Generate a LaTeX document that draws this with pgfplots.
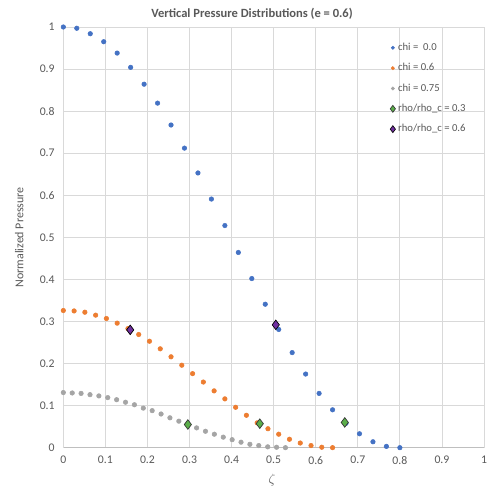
\documentclass[border=0pt]{standalone}
\usepackage{fontspec}
\setmainfont{Carlito}
\usepackage{pgfplots}
\pgfplotsset{compat=1.18}

\definecolor{txtgray}{HTML}{595959}
\definecolor{gridgray}{HTML}{D9D9D9}
\definecolor{axgray}{HTML}{BFBFBF}
\definecolor{xlblue}{HTML}{4472C4}
\definecolor{xlorange}{HTML}{ED7D31}
\definecolor{xlgray}{HTML}{A5A5A5}
\definecolor{xlgreen}{HTML}{5BAE4A}
\definecolor{xlpurple}{HTML}{7030A0}

\begin{document}
\begin{tikzpicture}
% fixed page: 500 x 499 px at 0.75pt per px
\path[use as bounding box, fill=white] (0,0) rectangle (375pt,374.25pt);
\begin{axis}[
  at={(47.5pt,38.5pt)}, anchor=south west,
  scale only axis, width=315.5pt, height=315.5pt,
  xmin=0, xmax=1, ymin=0, ymax=1,
  xtick={0,0.1,...,1.01}, ytick={0,0.1,...,1.01},
  grid=major, major grid style={gridgray, line width=0.6pt},
  axis lines=left,
  x axis line style={-, axgray, line width=0.7pt},
  y axis line style={-, gridgray, line width=0.6pt},
  major tick length=0pt,
  tick label style={font=\fontsize{8.8pt}{10pt}\selectfont, text=txtgray},
  /pgf/number format/assume math mode=true,
  /pgf/number format/fixed,
  /pgf/number format/precision=1,
  yticklabel style={xshift=-3pt},
  xticklabel style={yshift=-3pt},
  every axis title shift=0pt,
  title={Vertical Pressure Distributions (e = 0.6)},
  title style={font=\bfseries\fontsize{9.4pt}{11pt}\selectfont, text=txtgray,
    at={(axis description cs:0.4485,1.031)}, anchor=center},
  ylabel={Normalized Pressure},
  ylabel style={font=\fontsize{9pt}{10pt}\selectfont, text=txtgray,
    at={(axis description cs:-0.105,0.5)}, anchor=center},
  xlabel={$\zeta$},
  xlabel style={font=\fontsize{10pt}{12pt}\selectfont, text=txtgray,
    at={(axis description cs:0.496,-0.077)}, anchor=center},
  legend style={draw=none, fill=none, at={(axis description cs:0.767,0.975)},
    anchor=north west, font=\fontsize{8pt}{9pt}\selectfont, text=txtgray,
    row sep=4.2pt, cells={anchor=west}},
  legend image code/.code={\draw[#1, mark options={scale=0.72}] plot coordinates {(0.15cm,0cm)};},
]
% chi = 0.0
\addplot[only marks, mark=*, mark size=1.7pt, color=xlblue] coordinates {
(0.000,1.000) (0.032,0.997) (0.064,0.984) (0.096,0.965) (0.128,0.938)
(0.160,0.904) (0.192,0.864) (0.224,0.819) (0.256,0.767) (0.288,0.712)
(0.320,0.653) (0.352,0.591) (0.384,0.528) (0.416,0.464) (0.448,0.402)
(0.480,0.341) (0.512,0.281) (0.544,0.226) (0.576,0.175) (0.608,0.129)
(0.640,0.090) (0.672,0.058) (0.704,0.033) (0.736,0.014) (0.768,0.003)
(0.800,0.000)};
\addlegendentry{chi =\ \ 0.0}
% chi = 0.6
\addplot[only marks, mark=*, mark size=1.7pt, color=xlorange] coordinates {
(0.0000,0.326) (0.0256,0.325) (0.0512,0.322) (0.0768,0.315) (0.1024,0.307)
(0.1280,0.296) (0.1536,0.283) (0.1792,0.269) (0.2048,0.253) (0.2304,0.235)
(0.2560,0.216) (0.2816,0.196) (0.3072,0.176) (0.3328,0.156) (0.3584,0.135)
(0.3840,0.116) (0.4096,0.096) (0.4352,0.077) (0.4608,0.059) (0.4864,0.045)
(0.5120,0.032) (0.5376,0.020) (0.5632,0.011) (0.5888,0.005) (0.6144,0.001)
(0.6400,0.000)};
\addlegendentry{chi = 0.6}
% chi = 0.75
\addplot[only marks, mark=*, mark size=1.7pt, color=xlgray] coordinates {
(0.0000,0.131) (0.0211,0.130) (0.0422,0.129) (0.0634,0.126) (0.0845,0.123)
(0.1056,0.119) (0.1267,0.114) (0.1478,0.108) (0.1690,0.102) (0.1901,0.094)
(0.2112,0.088) (0.2323,0.080) (0.2534,0.071) (0.2746,0.063) (0.2957,0.055)
(0.3168,0.047) (0.3379,0.039) (0.3590,0.032) (0.3802,0.025) (0.4013,0.019)
(0.4224,0.013) (0.4435,0.008) (0.4646,0.005) (0.4858,0.002) (0.5069,0.001)
(0.5280,0.000)};
\addlegendentry{chi = 0.75}
% rho/rho_c = 0.3
\addplot[only marks, mark=diamond*, mark size=3.6pt, draw=black!80, fill=xlgreen,
  line width=0.5pt] coordinates {(0.296,0.055) (0.467,0.057) (0.669,0.060)};
\addlegendentry{rho/rho\_c = 0.3}
% rho/rho_c = 0.6
\addplot[only marks, mark=diamond*, mark size=3.6pt, draw=black, fill=xlpurple,
  line width=0.5pt] coordinates {(0.159,0.280) (0.505,0.292)};
\addlegendentry{rho/rho\_c = 0.6}
\end{axis}
\end{tikzpicture}
\end{document}
